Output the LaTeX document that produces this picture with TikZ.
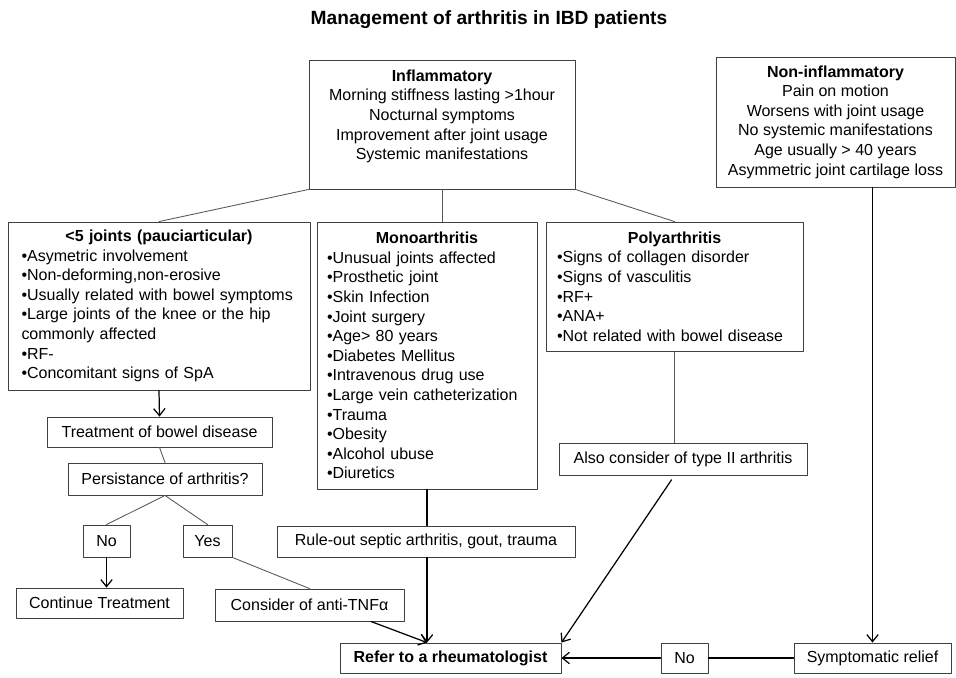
\documentclass[tikz,border=0pt]{standalone}
\usepackage{fontspec}
\setmainfont{Liberation Sans}
\usetikzlibrary{arrows.meta}

\begin{document}
\begin{tikzpicture}[x=1cm,y=-1cm,line cap=round,line join=round,>={Straight Barb[length=4pt,width=6.5pt]},
  every node/.style={inner sep=0pt,font=\fontsize{9.1}{11.15}\selectfont},
  box/.style={draw=black!75,line width=0.5pt,align=center},
  listbox/.style={draw=black!75,line width=0.5pt,align=left},
  link/.style={draw=black!65,line width=0.5pt},
  thk/.style={line width=0.7pt},
  flow/.style={->,line width=0.7pt}]
  \useasboundingbox (0,0) rectangle (19.12,13.54);
  \node (title) at (9.78,0.40) {\fontsize{10.9}{13}\selectfont\bfseries Management of arthritis in IBD patients};
  \node[box,minimum width=5.32cm,minimum height=2.58cm] (inflam) at (8.84,2.49)
    {\textbf{Inflammatory}\\Morning stiffness lasting >1hour\\Nocturnal symptoms\\Improvement after joint usage\\Systemic manifestations\\ \mbox{}};
  \node[box,minimum width=4.78cm,minimum height=2.60cm] (noninfl) at (16.71,2.44)
    {\textbf{Non-inflammatory}\\Pain on motion\\Worsens with joint usage\\No systemic manifestations\\Age usually > 40 years\\Asymmetric joint cartilage loss};
  \node[listbox,text width=5.5cm,minimum width=6.04cm,minimum height=3.36cm] (pauci) at (3.18,6.12)
    {\centerline{\bfseries <5 joints (pauciarticular)}
     •Asymetric involvement\\•Non-deforming,non-erosive\\•Usually related with bowel symptoms\\•Large joints of the knee or the hip\\ commonly affected\\•RF-\\•Concomitant signs of SpA};
  \node[listbox,text width=4.0cm,minimum width=4.40cm,minimum height=5.34cm] (mono) at (8.54,7.11)
    {\centerline{\bfseries Monoarthritis}
     •Unusual joints affected\\•Prosthetic joint\\•Skin Infection\\•Joint surgery\\•Age> 80 years\\•Diabetes Mellitus\\•Intravenous drug use\\•Large vein catheterization\\•Trauma\\•Obesity\\•Alcohol ubuse\\•Diuretics};
  \node[listbox,text width=4.7cm,minimum width=5.14cm,minimum height=2.58cm] (poly) at (13.49,5.73)
    {\centerline{\bfseries Polyarthritis}
     •Signs of collagen disorder\\•Signs of vasculitis\\•RF+\\•ANA+\\•Not related with bowel disease};
  \node[box,minimum width=4.50cm,minimum height=0.60cm] (treat) at (3.19,8.64) {Treatment of bowel disease};
  \node[box,minimum width=3.88cm,minimum height=0.64cm] (persist) at (3.30,9.58) {Persistance of arthritis?};
  \node[box,minimum width=0.94cm,minimum height=0.64cm] (noA) at (2.13,10.82) {No};
  \node[box,minimum width=0.98cm,minimum height=0.64cm] (yesA) at (4.15,10.82) {Yes};
  \node[box,minimum width=3.34cm,minimum height=0.60cm] (cont) at (1.99,12.06) {Continue Treatment};
  \node[box,minimum width=3.78cm,minimum height=0.64cm] (consider) at (6.19,12.10) {Consider of anti-TNFα};
  \node[box,minimum width=5.96cm,minimum height=0.62cm] (ruleout) at (8.52,10.83) {Rule-out septic arthritis, gout, trauma};
  \node[box,minimum width=4.96cm,minimum height=0.64cm] (also) at (13.66,9.18) {Also consider of type II arthritis};
  \node[box,minimum width=4.42cm,minimum height=0.60cm] (refer) at (9.01,13.16) {\textbf{Refer to a rheumatologist}};
  \node[box,minimum width=0.94cm,minimum height=0.60cm] (no2) at (13.69,13.16) {No};
  \node[box,minimum width=3.14cm,minimum height=0.60cm] (sympt) at (17.45,13.16) {Symptomatic relief};
  \coordinate (hit) at (mono.south |- refer.north);
  \draw[link] (inflam.south west) -- (pauci.north);
  \draw[link] (inflam.south) -- (inflam.south |- mono.north);
  \draw[link] (inflam.south east) -- (poly.north);
  \draw[flow] (pauci.south) -- (treat.north);
  \draw[link] (treat.south) -- (persist.north);
  \draw[link] (persist.south) -- (noA.north);
  \draw[link] (persist.south) -- (yesA.north);
  \draw[flow] (noA.south) -- (noA.south |- cont.north);
  \draw[link] (yesA.south east) -- (consider.north);
  \draw[thk] (mono.south) -- (mono.south |- ruleout.north);
  \draw[flow] (mono.south |- ruleout.south) -- (hit);
  \draw[flow] (consider.-15) -- (hit);
  \draw[link] (poly.south) -- (poly.south |- also.north);
  \draw[flow,shorten <=3pt] (poly.south |- also.south) -- (refer.north east);
  \draw[flow] (noninfl.south -| sympt.north) -- (sympt.north);
  \draw[thk] (sympt.west) -- (no2.east);
  \draw[flow] (no2.west) -- (refer.east);
\end{tikzpicture}
\end{document}
